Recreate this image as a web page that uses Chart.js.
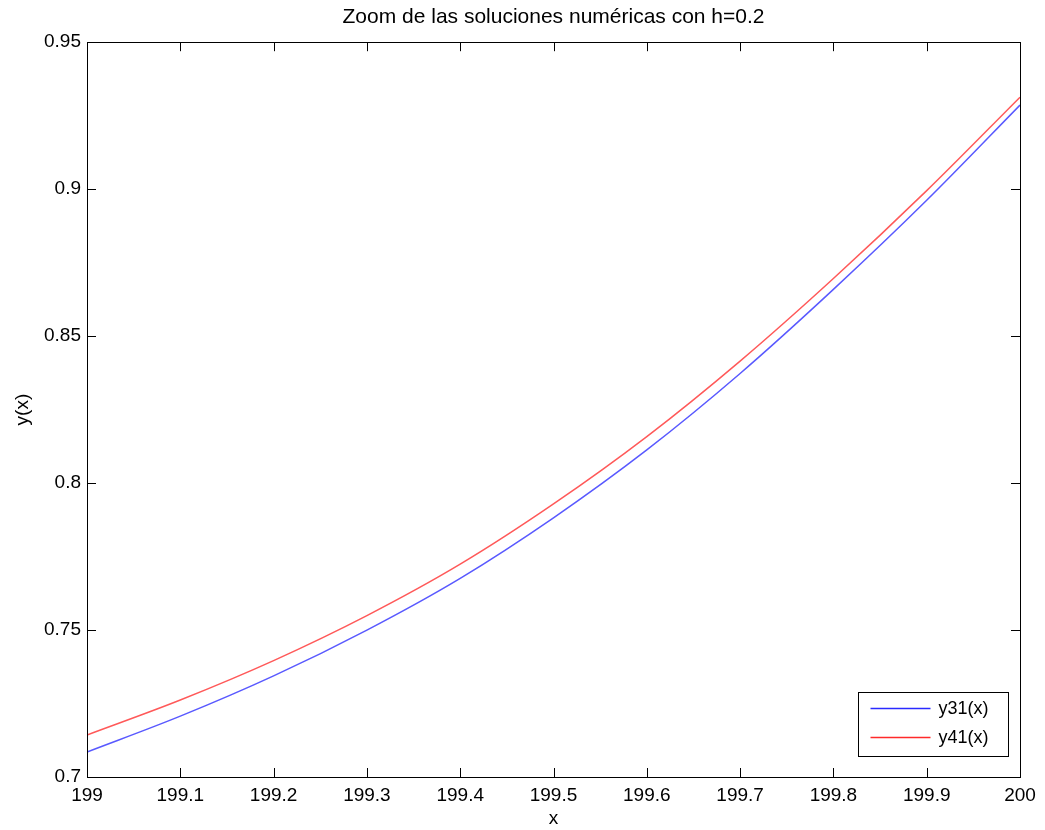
<!DOCTYPE html>
<html>
<head>
<meta charset="utf-8">
<script src="https://cdn.jsdelivr.net/npm/chart.js@4.4.1/dist/chart.umd.min.js"></script>
<style>
  body { margin: 0; background: #fff; }
  canvas { display: block; }
</style>
</head>
<body>
<canvas id="zoomChart" width="1045" height="830"></canvas>
<script>
// valores
const xValues = [199, 199.1, 199.2, 199.3, 199.4, 199.5, 199.6, 199.7, 199.8, 199.9, 200];
const y31 = [0.7085, 0.7207, 0.7344, 0.7500, 0.7676, 0.7882, 0.8113, 0.8373, 0.8659, 0.8962, 0.9286];
const y41 = [0.7143, 0.7262, 0.7396, 0.7549, 0.7724, 0.7929, 0.8158, 0.8415, 0.8696, 0.8995, 0.9313];
const seriesLabels = ['y31(x)', 'y41(x)'];
const titleText = 'Zoom de las soluciones numéricas con h=0.2';

const FONT = 'Liberation Sans, Arial, Helvetica, sans-serif';

// caja estilo MATLAB con marcas hacia dentro + leyenda
const matlabBox = {
    id: 'matlabBox',
    afterDraw(chart) {
        const { ctx, chartArea: a, scales } = chart;
        const tick = 9;
        ctx.save();
        ctx.strokeStyle = '#000';
        ctx.lineWidth = 1;
        ctx.beginPath();
        scales.x.ticks.forEach(t => {
            const px = Math.round(scales.x.getPixelForValue(t.value)) + 0.5;
            ctx.moveTo(px, a.bottom); ctx.lineTo(px, a.bottom - tick);
            ctx.moveTo(px, a.top); ctx.lineTo(px, a.top + tick);
        });
        scales.y.ticks.forEach(t => {
            const py = Math.round(scales.y.getPixelForValue(t.value)) + 0.5;
            ctx.moveTo(a.left, py); ctx.lineTo(a.left + tick, py);
            ctx.moveTo(a.right, py); ctx.lineTo(a.right - tick, py);
        });
        ctx.stroke();
        ctx.strokeRect(Math.round(a.left) + 0.5, Math.round(a.top) + 0.5,
            Math.round(a.right - a.left), Math.round(a.bottom - a.top));

        // leyenda
        const w = 150, h = 64;
        const lx = Math.round(a.right - 12 - w) + 0.5;
        const ly = Math.round(a.bottom - 21 - h) + 0.5;
        ctx.fillStyle = '#fff';
        ctx.fillRect(lx, ly, w, h);
        ctx.strokeRect(lx, ly, w, h);
        ctx.font = '18px ' + FONT;
        ctx.textBaseline = 'middle';
        chart.data.datasets.forEach((ds, i) => {
            const yy = ly + 16 + i * 29;
            ctx.strokeStyle = ds.legendColor;
            ctx.lineWidth = 1.5;
            ctx.beginPath();
            ctx.moveTo(lx + 12, yy); ctx.lineTo(lx + 72, yy);
            ctx.stroke();
            ctx.fillStyle = '#000';
            ctx.fillText(ds.label, lx + 80, yy + 1);
        });
        ctx.restore();
    }
};

const ctx = document.getElementById('zoomChart').getContext('2d');
new Chart(ctx, {
    type: 'line',
    data: {
        datasets: [
            {
                label: seriesLabels[0],
                data: xValues.map((x, i) => ({ x: x, y: y31[i] })),
                borderColor: 'rgba(60, 60, 255, 0.85)',
                legendColor: '#2a2aff',
                borderWidth: 1.5,
                pointRadius: 0,
                cubicInterpolationMode: 'monotone'
            },
            {
                label: seriesLabels[1],
                data: xValues.map((x, i) => ({ x: x, y: y41[i] })),
                borderColor: 'rgba(255, 60, 60, 0.85)',
                legendColor: '#ff2a2a',
                borderWidth: 1.5,
                pointRadius: 0,
                cubicInterpolationMode: 'monotone'
            }
        ]
    },
    options: {
        responsive: false,
        animation: false,
        layout: { padding: { left: 0, right: 25, top: 0, bottom: 0 } },
        plugins: {
            legend: { display: false },
            tooltip: { enabled: false },
            title: {
                display: true,
                fullSize: false,
                text: titleText,
                color: '#000',
                font: { family: FONT, size: 21, weight: 'normal' },
                padding: { top: 5, bottom: 12 }
            }
        },
        scales: {
            x: {
                type: 'linear',
                min: 199,
                max: 200,
                grid: { display: false, drawTicks: false },
                border: { display: false },
                ticks: {
                    stepSize: 0.1,
                    padding: 7,
                    maxRotation: 0,
                    color: '#000',
                    font: { family: FONT, size: 19 },
                    callback: v => String(Number(v.toFixed(1)))
                },
                title: {
                    display: true,
                    text: 'x',
                    color: '#000',
                    font: { family: FONT, size: 19 },
                    padding: { top: 0, bottom: 0 }
                },
                afterFit: s => { s.height = 53; }
            },
            y: {
                min: 0.7,
                max: 0.95,
                grid: { display: false, drawTicks: false },
                border: { display: false },
                ticks: {
                    stepSize: 0.05,
                    padding: 6,
                    color: '#000',
                    font: { family: FONT, size: 19 },
                    callback: v => String(Number(v.toFixed(2)))
                },
                title: {
                    display: true,
                    text: 'y(x)',
                    color: '#000',
                    font: { family: FONT, size: 19 },
                    padding: { top: 11, bottom: 0 }
                },
                afterFit: s => { s.width = 87; }
            }
        }
    },
    plugins: [matlabBox]
});
</script>
</body>
</html>
